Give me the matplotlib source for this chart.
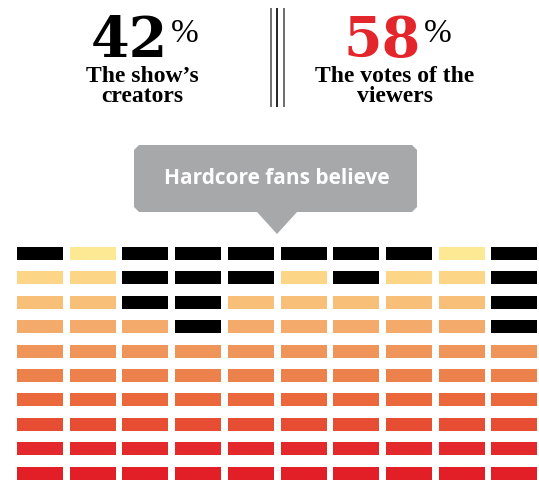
import matplotlib
matplotlib.use("Agg")
import matplotlib.pyplot as plt
from matplotlib.patches import Polygon

# ---- data ----
creators_pct = 42
viewers_pct = 58
creators_lines = ["The show\u2019s", "creators"]
viewers_lines = ["The votes of the", "viewers"]
callout_text = "Hardcore fans believe"
n_cols = 10
n_rows = 10
# number of black cells (from top) in each column
black_per_column = [1, 0, 3, 4, 2, 1, 2, 1, 0, 4]
row_colors = ["#FDE993", "#FCD587", "#F8BF78", "#F4AA6A", "#F0955A",
              "#ED814B", "#EA683C", "#E64D33", "#E3292B", "#E21F26"]

W, H = 539, 482
fig = plt.figure(figsize=(W / 100, H / 100), dpi=100)
ax = fig.add_axes([0, 0, 1, 1])
ax.set_xlim(0, W)
ax.set_ylim(H, 0)
ax.axis("off")

# ---- grid of bars ----
x0, pitch_x, bw = 17, 52.7, 46
y0, pitch_y, bh = 247, 24.4, 13
for c in range(n_cols):
    for r in range(n_rows):
        color = "#000000" if r < black_per_column[c] else row_colors[r]
        ax.bar(x0 + c * pitch_x, bh, width=bw, bottom=y0 + r * pitch_y,
               align="edge", color=color, linewidth=0)

# ---- headline numbers ----
serif = ["Liberation Serif", "DejaVu Serif"]
digits = ["DejaVu Serif"]
ax.text(129, 57, f"{creators_pct}", fontsize=40, fontweight="bold",
        family=digits, ha="center", va="baseline", color="#000000")
ax.text(185, 42, "%", fontsize=24, family=serif, ha="center",
        va="baseline", color="#000000")
ax.text(382, 57, f"{viewers_pct}", fontsize=40, fontweight="bold",
        family=digits, ha="center", va="baseline", color="#E3262B")
ax.text(438, 42, "%", fontsize=24, family=serif, ha="center",
        va="baseline", color="#000000")

for i, line in enumerate(creators_lines):
    ax.text(142, 82 + 20 * i, line, fontsize=17, fontweight="bold",
            family=serif, ha="center", va="baseline")
for i, line in enumerate(viewers_lines):
    ax.text(395, 82 + 20 * i, line, fontsize=17, fontweight="bold",
            family=serif, ha="center", va="baseline")

# divider lines
for xv, col in [(271, "#555555"), (277.3, "#000000"), (283.7, "#555555")]:
    ax.plot([xv, xv], [8, 107], color=col, linewidth=1.2, solid_capstyle="butt")

# ---- callout ----
gray = "#A7A8AA"
l, r_, t, b, ch = 134, 417, 145, 212, 5
box = Polygon([(l + ch, t), (r_ - ch, t), (r_, t + ch), (r_, b - ch),
               (r_ - ch, b), (297, b), (277, 234), (257, b), (l + ch, b),
               (l, b - ch), (l, t + ch)], closed=True, facecolor=gray,
              edgecolor="none")
ax.add_patch(box)
ax.text(277, 179, callout_text, fontsize=15, fontweight="bold",
        family=["Open Sans", "DejaVu Sans"], ha="center", va="center",
        color="white")

fig.savefig("out.png", dpi=100)
